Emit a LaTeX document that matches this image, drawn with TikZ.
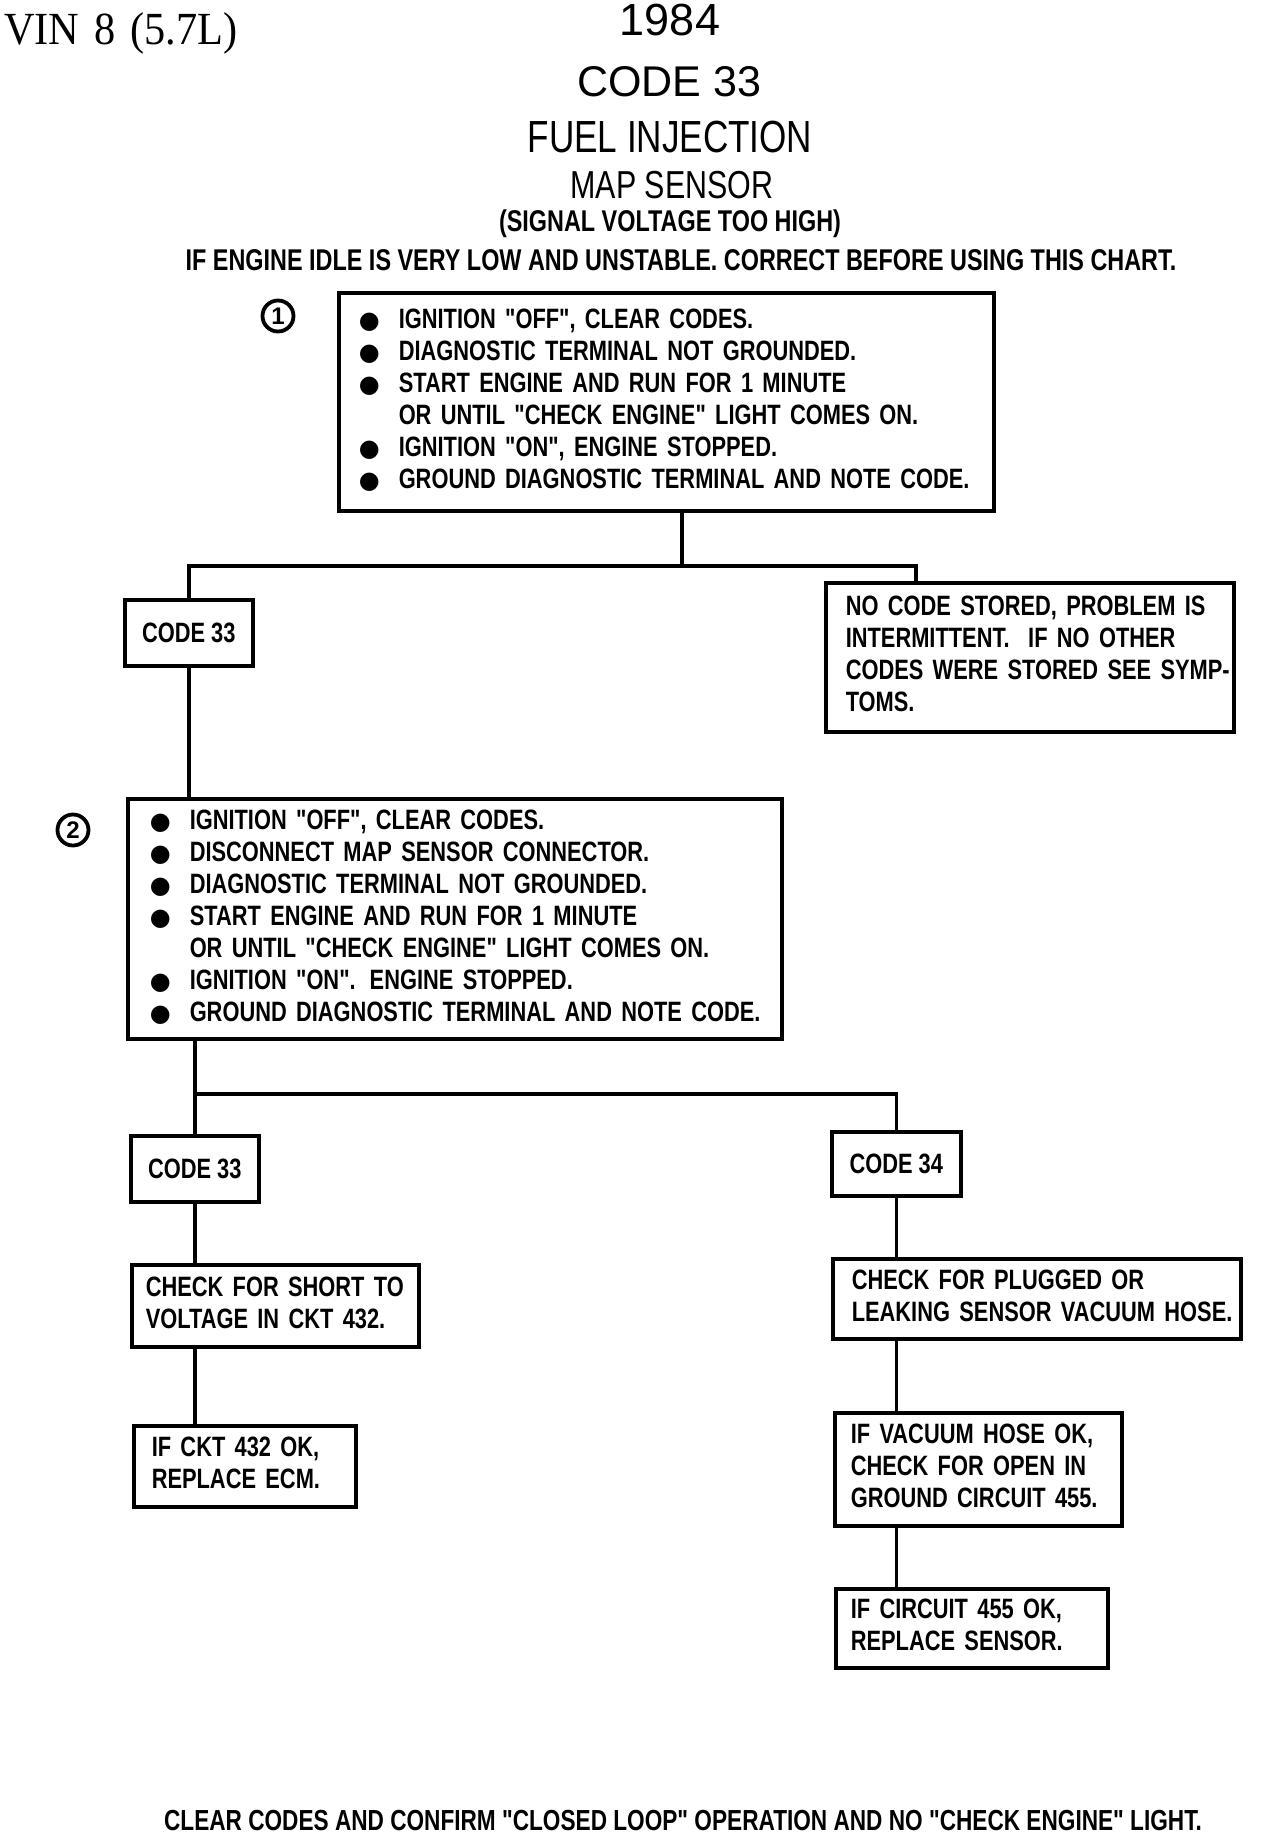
\documentclass[tikz,border=0pt]{standalone}
\usepackage{fontspec}
\usepackage{tikz}
\setmainfont{Liberation Sans}
\newfontfamily\plotfont[FakeStretch=0.78]{Liberation Sans}
\newfontfamily\titelfont{Liberation Sans}
\newfontfamily\vinfont[FakeStretch=0.92]{Liberation Serif}
\newfontfamily\symfont{DejaVu Sans}
\definecolor{tinte}{HTML}{000000}
\newcommand\kastenfont{\plotfont\bfseries\fontsize{28}{32}\selectfont}
\newcommand\blt{\makebox[40pt][l]{\symfont\fontsize{24}{24}\selectfont ●}}
\newcommand\nblt{\hspace*{40pt}}
\newcommand\zeilen[1]{\begin{tabular}{@{}l@{}}#1\end{tabular}}
\tikzset{
  kasten/.style={draw=tinte,line width=3.5pt,anchor=north west,align=left,inner ysep=0pt,font=\kastenfont},
  codekasten/.style={draw=tinte,line width=3.5pt,anchor=north west,align=center,inner sep=0pt,font=\kastenfont},
  linie/.style={tinte,line width=3.5pt},
  nummer/.style={circle,draw=tinte,line width=3.8pt,inner sep=0pt,minimum size=31pt,font=\titelfont\bfseries\fontsize{24}{24}\selectfont},
  titel/.style={tinte,inner sep=0pt},
}

\begin{document}
\begin{tikzpicture}[x=1pt,y=-1pt]
  \useasboundingbox (0,0) rectangle (1264,1834);
  % Kopf
  \node[titel,anchor=west,font=\vinfont\fontsize{46}{46}\selectfont] (vin) at (4,33) {VIN\hspace{15pt}8\hspace{15pt}(5.7L)};
  \node[titel,font=\titelfont\fontsize{45}{45}\selectfont] (jahr) at (670,20) {1984};
  \node[titel,font=\titelfont\fontsize{43}{43}\selectfont] (code) at (669,82) {CODE 33};
  \node[titel,font=\plotfont\fontsize{45}{45}\selectfont] (fi) at (670,137) {FUEL INJECTION};
  \node[titel,font=\plotfont\fontsize{39}{39}\selectfont] (map) at (672,185) {MAP SENSOR};
  \node[titel,font=\plotfont\bfseries\fontsize{30}{30}\selectfont] (sig) at (670,224) {(SIGNAL VOLTAGE TOO HIGH)};
  \node[titel,font=\plotfont\bfseries\fontsize{30}{30}\selectfont] (idle) at (681,260) {IF ENGINE IDLE IS VERY LOW AND UNSTABLE. CORRECT BEFORE USING THIS CHART.};
  % Schritt 1
  \node[nummer] (n1) at (278,316) {1};
  \node[kasten,inner xsep=20pt,text width=615pt,minimum height=218pt] (s1) at (337,291) {\zeilen{%
    \blt IGNITION "OFF", CLEAR CODES.\\
    \blt DIAGNOSTIC TERMINAL NOT GROUNDED.\\
    \blt START ENGINE AND RUN FOR 1 MINUTE\\
    \nblt OR UNTIL "CHECK ENGINE" LIGHT COMES ON.\\
    \blt IGNITION "ON", ENGINE STOPPED.\\
    \blt GROUND DIAGNOSTIC TERMINAL AND NOTE CODE.}};
  \node[codekasten,minimum width=128pt,minimum height=66pt] (c1) at (123,598) {CODE 33};
  \node[kasten,inner xsep=20pt,text width=368pt,minimum height=149pt] (nc) at (824,581) {\zeilen{%
    NO CODE STORED, PROBLEM IS\\
    INTERMITTENT.\ \ IF NO OTHER\\
    CODES WERE STORED SEE SYMP-\\
    TOMS.}};
  \coordinate (j1) at (682,566);
  \coordinate (j1r) at (916,566);
  \draw[linie] (s1.south -| j1) -- (j1) -| (c1.north);
  \draw[linie] (j1) -- (j1r) -- (j1r |- nc.north);
  % Schritt 2
  \node[nummer] (n2) at (73,830) {2};
  \node[kasten,inner xsep=22pt,text width=610pt,minimum height=240pt] (s2) at (126,797) {\zeilen{%
    \blt IGNITION "OFF", CLEAR CODES.\\
    \blt DISCONNECT MAP SENSOR CONNECTOR.\\
    \blt DIAGNOSTIC TERMINAL NOT GROUNDED.\\
    \blt START ENGINE AND RUN FOR 1 MINUTE\\
    \nblt OR UNTIL "CHECK ENGINE" LIGHT COMES ON.\\
    \blt IGNITION "ON". ENGINE STOPPED.\\
    \blt GROUND DIAGNOSTIC TERMINAL AND NOTE CODE.}};
  \draw[linie] (c1.south) -- (c1.south |- s2.north);
  \node[codekasten,minimum width=128pt,minimum height=66pt] (c3) at (129,1134) {CODE 33};
  \node[codekasten,minimum width=129pt,minimum height=64pt] (c4) at (830,1130) {CODE 34};
  \coordinate (j2) at (193,1094);
  \draw[linie] (s2.south -| c3.north) -- (c3.north);
  \draw[linie] (j2) -| (c4.north);
  % links
  \node[kasten,inner xsep=14pt,text width=259pt,minimum height=82pt] (k1) at (130,1263) {\zeilen{%
    CHECK FOR SHORT TO\\
    VOLTAGE IN CKT 432.}};
  \node[kasten,inner xsep=18pt,text width=186pt,minimum height=81pt] (k2) at (132,1424) {\zeilen{%
    IF CKT 432 OK,\\
    REPLACE ECM.}};
  \draw[linie] (c3.south) -- (c3.south |- k1.north);
  \draw[linie] (k1.south -| c3.south) -- (k2.north -| c3.south);
  % rechts
  \node[kasten,inner xsep=19pt,text width=370pt,minimum height=80pt] (k3) at (831,1257) {\zeilen{%
    CHECK FOR PLUGGED OR\\
    LEAKING SENSOR VACUUM HOSE.}};
  \node[kasten,inner xsep=16pt,text width=255pt,minimum height=113pt] (k4) at (833,1411) {\zeilen{%
    IF VACUUM HOSE OK,\\
    CHECK FOR OPEN IN\\
    GROUND CIRCUIT 455.}};
  \node[kasten,inner xsep=15pt,text width=242pt,minimum height=79pt] (k5) at (834,1587) {\zeilen{%
    IF CIRCUIT 455 OK,\\
    REPLACE SENSOR.}};
  \draw[linie] (c4.south) -- (c4.south |- k3.north);
  \draw[linie] (k3.south -| c4.south) -- (k4.north -| c4.south);
  \draw[linie] (k4.south -| c4.south) -- (k5.north -| c4.south);
  % Fuss
  \node[titel,font=\plotfont\bfseries\fontsize{29}{29}\selectfont] (fuss) at (683,1820) {CLEAR CODES AND CONFIRM "CLOSED LOOP" OPERATION AND NO "CHECK ENGINE" LIGHT.};
\end{tikzpicture}
\end{document}
